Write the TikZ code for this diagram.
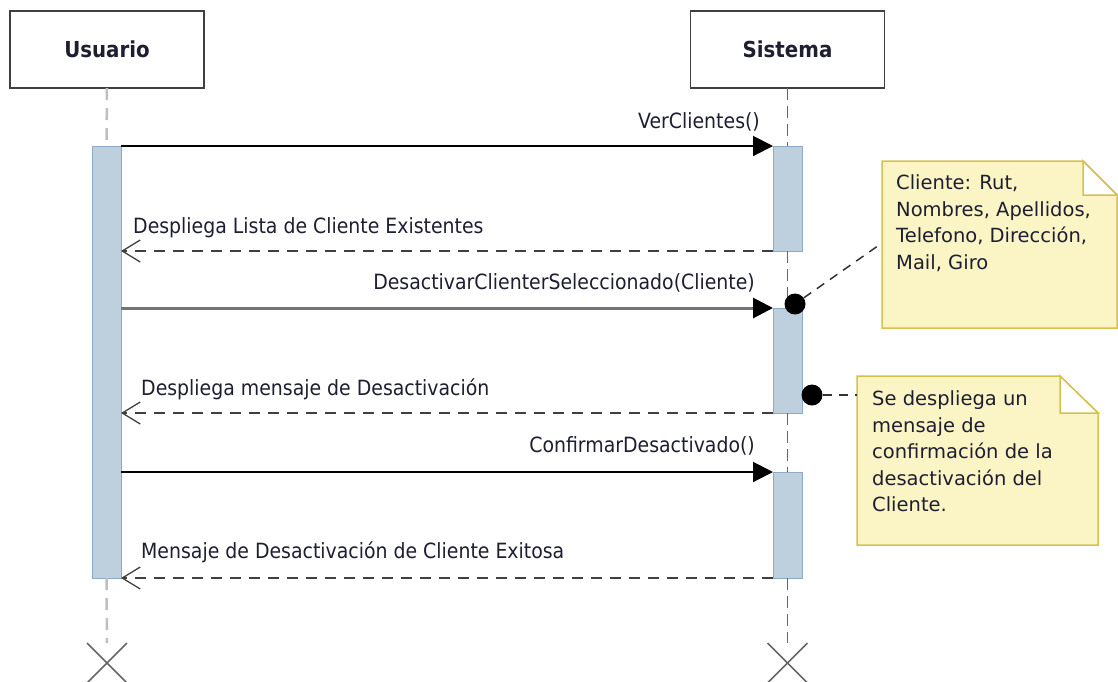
\documentclass[tikz,border=0pt]{standalone}
\usepackage{fontspec}
\setmainfont{DejaVu Sans Condensed}
\newfontfamily\notefont{DejaVu Sans}
\usetikzlibrary{arrows.meta}
\definecolor{txt}{RGB}{30,30,50}
\definecolor{actfill}{RGB}{190,207,221}
\definecolor{actdraw}{RGB}{140,170,200}
\definecolor{notefill}{RGB}{251,245,197}
\definecolor{notedraw}{RGB}{214,192,80}
\begin{document}
\begin{tikzpicture}[x=1pt,y=-1pt,
  hdr/.style={draw=black!75,line width=1.5pt,fill=white,minimum width=194pt,minimum height=77pt,inner sep=0pt,outer sep=0pt,font=\fontsize{22}{26}\selectfont\bfseries,text=txt},
  act/.style={draw=actdraw,fill=actfill,line width=1pt,minimum width=29pt,inner sep=0pt,outer sep=0pt},
  lifeU/.style={draw=black!25,line width=2.5pt,dash pattern=on 12pt off 8pt},
  lifeS/.style={draw=black!60,line width=1.2pt,dash pattern=on 12pt off 6pt},
  call/.style={draw=black,line width=2pt,-{Triangle[length=20pt,width=20pt,color=black]}},
  ret/.style={draw=black!75,line width=2pt,dash pattern=on 11pt off 8pt,-{Straight Barb[length=18pt,width=22pt,line width=1.3pt]}},
  lbl/.style={font=\fontsize{21}{24}\selectfont,text=txt,inner sep=0pt},
  notetxt/.style={font=\notefont\fontsize{19.5}{26.5}\selectfont,text=txt,inner sep=0pt,align=left},
  dot/.style={circle,fill=black,minimum size=21pt,inner sep=0pt},
  link/.style={draw=black!80,line width=1.5pt,dash pattern=on 9pt off 7pt},
  xmark/.style={draw=black!60,line width=1.5pt},
  note/.style={draw=notedraw,fill=notefill,line width=1.5pt}
]
\useasboundingbox (0,0) rectangle (1118,681);
% headers
\node[hdr] (u) at (107,49.5) {Usuario};
\node[hdr] (s) at (787.5,49.5) {Sistema};
% activations
\node[act,minimum height=432pt] (ua) at (106.5,362) {};
\node[act,minimum height=105pt] (sa1) at (787.5,198.5) {};
\node[act,minimum height=105pt] (sa2) at (787.5,360.5) {};
\node[act,minimum height=106pt] (sa3) at (787.5,525) {};
% end coordinates
\coordinate (ue) at (107,663);
\coordinate (se) at (787.5,663);
% lifelines
\draw[lifeU] (u.south) -- (ua.north);
\draw[lifeU] (ua.south) -- (107,643);
\draw[lifeS] (s.south) -- (sa1.north);
\draw[lifeS] (sa1.south) -- (sa2.north);
\draw[lifeS] (sa2.south) -- (sa3.north);
\draw[lifeS] (sa3.south) -- (787.5,643);
% destruction marks
\draw[xmark] ([shift={(-20,-20)}]ue) -- ([shift={(20,20)}]ue);
\draw[xmark] ([shift={(-20,20)}]ue) -- ([shift={(20,-20)}]ue);
\draw[xmark] ([shift={(-20,-20)}]se) -- ([shift={(20,20)}]se);
\draw[xmark] ([shift={(-20,20)}]se) -- ([shift={(20,-20)}]se);
% messages
\draw[call] (ua.east |- sa1.north) -- (sa1.north west);
\node[lbl,anchor=base east] (m1) at (760,128) {VerClientes()};
\draw[ret] (sa1.south west) -- (ua.east |- sa1.south);
\node[lbl,anchor=base west] (m2) at (133,233) {Despliega Lista de Cliente Existentes};
\draw[call,draw=black!55,line width=3pt] (ua.east |- sa2.north) -- (sa2.north west);
\node[lbl,anchor=base east] (m3) at (755,289) {DesactivarClienterSeleccionado(Cliente)};
\draw[ret] (sa2.south west) -- (ua.east |- sa2.south);
\node[lbl,anchor=base west] (m4) at (141,395) {Despliega mensaje de Desactivación};
\draw[call] (ua.east |- sa3.north) -- (sa3.north west);
\node[lbl,anchor=base east] (m5) at (755,452) {ConfirmarDesactivado()};
\draw[ret] (sa3.south west) -- (ua.east |- sa3.south);
\node[lbl,anchor=base west] (m6) at (141,558) {Mensaje de Desactivación de Cliente Exitosa};
% note 1
\path[note] (882,161) -- (1083,161) -- (1117,195) -- (1117,328) -- (882,328) -- cycle;
\draw[note,fill=white] (1083,161) -- (1083,195) -- (1117,195) -- cycle;
\node[notetxt,anchor=north west] (n1) at (896,174.5) {Cliente: Rut,\\Nombres, Apellidos,\\Telefono, Dirección,\\Mail, Giro};
\coordinate (n1l) at (882,243);
\node[dot] (d1) at (795,304) {};
\draw[link] (d1) -- (n1l);
% note 2
\path[note] (857,376) -- (1060,376) -- (1098,413) -- (1098,545) -- (857,545) -- cycle;
\draw[note,fill=white] (1060,376) -- (1060,413) -- (1098,413) -- cycle;
\node[notetxt,anchor=north west] (n2) at (872,390.5) {Se despliega un\\mensaje de\\confirmación de la\\desactivación del\\Cliente.};
\coordinate (n2l) at (857,395);
\node[dot] (d2) at (812,395) {};
\draw[link] (d2) -- (n2l);
\end{tikzpicture}
\end{document}
